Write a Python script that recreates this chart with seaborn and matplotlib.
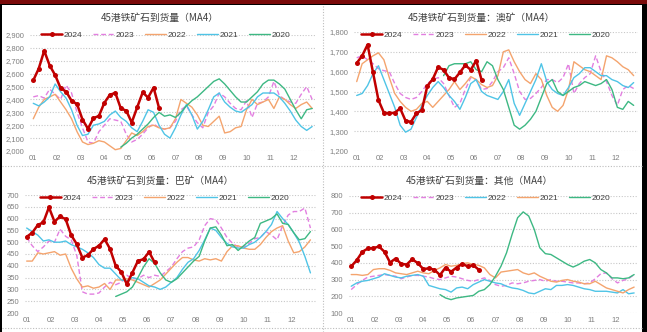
import matplotlib
matplotlib.use("Agg")
import matplotlib.pyplot as plt
import seaborn as sns
from matplotlib.patches import Rectangle
from matplotlib.lines import Line2D
from matplotlib.ticker import FuncFormatter

# ---------------- data ----------------
months = ["01", "02", "03", "04", "05", "06", "07", "08", "09", "10", "11", "12"]
years = ["2024", "2023", "2022", "2021", "2020"]

# Panel 1: total
t_2024 = [2548, 2640, 2778, 2663, 2589, 2487, 2461, 2390, 2364, 2244, 2173, 2255, 2272, 2374, 2436, 2451,
          2331, 2313, 2221, 2339, 2454, 2415, 2492, 2334]
t_2023 = [2420, 2430, 2410, 2480, 2440, 2400, 2510, 2450, 2300, 2180, 2070, 2060, 2150, 2200, 2250, 2240,
          2230, 2130, 2070, 2090, 2130, 2180, 2210, 2180, 2170, 2180, 2230, 2320, 2350, 2280, 2220, 2180,
          2300, 2350, 2450, 2420, 2370, 2330, 2320, 2390, 2260, 2370, 2380, 2420, 2540, 2430, 2400, 2380,
          2370, 2440, 2500, 2400]
t_2022 = [2250, 2340, 2400, 2420, 2440, 2380, 2320, 2250, 2150, 2070, 2050, 2060, 2080, 2070, 2040, 2010,
          2020, 2080, 2140, 2120, 2150, 2190, 2200, 2180, 2170, 2180, 2250, 2400, 2370, 2340, 2280, 2200,
          2190, 2230, 2270, 2140, 2150, 2180, 2190, 2320, 2400, 2360, 2380, 2400, 2330, 2420, 2400, 2360,
          2330, 2360, 2380, 2330]
t_2021 = [2370, 2350, 2380, 2420, 2520, 2460, 2410, 2320, 2200, 2120, 2130, 2200, 2210, 2230, 2280, 2310,
          2260, 2230, 2180, 2150, 2230, 2320, 2300, 2200, 2130, 2100, 2180, 2280, 2360, 2280, 2170, 2230,
          2320, 2420, 2450, 2380, 2340, 2310, 2300, 2330, 2360, 2420, 2450, 2450, 2450, 2420, 2370, 2310,
          2240, 2190, 2160, 2190]
t_2020 = [2030, 2060, 2100, 2130, 2170, 2210, 2260, 2300, 2270, 2280, 2260, 2300, 2350, 2390, 2420, 2460,
          2500, 2540, 2560, 2520, 2470, 2420, 2380, 2380, 2420, 2460, 2520, 2550, 2550, 2520, 2480, 2400,
          2320, 2250, 2320, 2330]

# Panel 2: Australia
a_2024 = [1643, 1680, 1736, 1596, 1457, 1393, 1390, 1393, 1415, 1352, 1347, 1390, 1406, 1528, 1562, 1623,
          1609, 1569, 1562, 1596, 1633, 1609, 1656, 1558]
a_2023 = [1670, 1680, 1660, 1640, 1615, 1605, 1600, 1540, 1490, 1470, 1460, 1470, 1500, 1540, 1560, 1570,
          1540, 1480, 1420, 1440, 1510, 1570, 1560, 1510, 1515, 1550, 1600, 1620, 1670, 1590, 1500, 1460,
          1465, 1490, 1520, 1560, 1560, 1545, 1570, 1640, 1490, 1540, 1570, 1590, 1680, 1600, 1550, 1480,
          1430, 1510, 1530, 1515]
a_2022 = [1550, 1640, 1660, 1680, 1695, 1660, 1570, 1490, 1450, 1420, 1400, 1410, 1440, 1450, 1420, 1450,
          1480, 1510, 1550, 1510, 1540, 1575, 1560, 1535, 1520, 1530, 1580, 1700, 1710, 1650, 1600, 1560,
          1540, 1590, 1560, 1480, 1420, 1400, 1430, 1510, 1650, 1630, 1610, 1600, 1580, 1560, 1680, 1670,
          1650, 1625, 1610, 1580]
a_2021 = [1480, 1490, 1530, 1590, 1630, 1560, 1490, 1420, 1330, 1295, 1310, 1370, 1430, 1480, 1520, 1550,
          1520, 1480, 1450, 1410, 1470, 1540, 1560, 1500, 1480, 1470, 1460, 1500, 1560, 1440, 1380, 1440,
          1500, 1560, 1640, 1550, 1510, 1490, 1480, 1520, 1570, 1590, 1620, 1620, 1600, 1580, 1580, 1560,
          1550, 1530, 1520, 1545]
a_2020 = [1580, 1630, 1640, 1640, 1640, 1650, 1610, 1600, 1650, 1630, 1560, 1510, 1420, 1330, 1310, 1330,
          1360, 1400, 1470, 1540, 1560, 1500, 1480, 1500, 1520, 1530, 1550, 1540, 1530, 1540, 1560, 1510,
          1420, 1410, 1450, 1430]

# Panel 3: Brazil
b_2024 = [523, 540, 573, 584, 648, 587, 609, 598, 530, 492, 435, 445, 471, 485, 513, 471, 400, 374, 322,
          371, 421, 428, 459, 414]
b_2023 = [520, 485, 460, 480, 505, 500, 555, 525, 510, 445, 290, 280, 280, 285, 310, 330, 320, 330, 360,
          345, 345, 360, 350, 360, 355, 375, 395, 430, 460, 475, 480, 510, 570, 600, 595, 560, 520, 495,
          480, 480, 495, 515, 520, 545, 530, 510, 570, 615, 630, 630, 645, 560]
b_2022 = [420, 420, 455, 450, 455, 460, 445, 450, 390, 345, 310, 315, 305, 310, 325, 300, 340, 340, 345,
          340, 330, 320, 310, 325, 340, 365, 390, 415, 435, 435, 425, 420, 430, 425, 430, 420, 460, 485,
          485, 475, 470, 470, 490, 520, 545, 560, 570, 505, 455, 460, 480, 510]
b_2021 = [560, 545, 530, 505, 510, 500, 500, 505, 490, 480, 470, 455, 435, 405, 390, 390, 365, 340, 335,
          350, 345, 330, 315, 310, 300, 310, 330, 350, 385, 415, 430, 465, 510, 560, 550, 520, 495, 480,
          475, 475, 490, 500, 520, 545, 575, 630, 600, 575, 540, 500, 440, 370]
b_2020 = [270, 280, 290, 310, 350, 395, 430, 410, 370, 340, 330, 345, 370, 395, 420, 440, 505, 560, 565,
          530, 485, 490, 465, 485, 505, 520, 580, 590, 600, 620, 580, 575, 540, 510, 515, 545]

# Panel 4: others
o_2024 = [379, 416, 466, 486, 488, 498, 466, 402, 426, 394, 390, 422, 398, 363, 367, 359, 327, 372, 347,
          372, 394, 379, 386, 359]
o_2023 = [240, 270, 295, 315, 320, 325, 330, 325, 320, 305, 315, 325, 325, 320, 315, 305, 300, 310, 320,
          315, 305, 295, 290, 300, 310, 295, 270, 260, 265, 280, 275, 280, 290, 295, 300, 290, 300, 290,
          290, 285, 280, 280, 275, 280, 305, 335, 340, 305, 280, 295, 305, 330]
o_2022 = [260, 280, 290, 295, 305, 315, 335, 325, 315, 310, 320, 325, 330, 320, 265, 255, 245, 240, 225,
          250, 255, 245, 270, 285, 300, 290, 280, 275, 260, 250, 245, 235, 220, 215, 230, 245, 240, 265,
          265, 270, 265, 255, 245, 240, 230, 230, 230, 225, 220, 240, 215, 220]
o_2021 = [330, 330, 325, 330, 360, 365, 365, 355, 340, 335, 330, 340, 350, 340, 335, 355, 370, 390, 380,
          385, 395, 400, 390, 385, 370, 330, 310, 345, 350, 355, 360, 340, 330, 340, 320, 305, 290, 285,
          295, 300, 290, 285, 275, 275, 290, 270, 250, 240, 230, 220, 240, 255]
o_2020 = [210, 190, 180, 190, 195, 200, 205, 230, 240, 270, 320, 380, 460, 570, 670, 705, 680, 600, 490,
          455, 450, 430, 410, 390, 375, 390, 410, 420, 400, 360, 340, 310, 310, 305, 310, 330]

titles = ["45港铁矿石到货量（MA4）", "45港铁矿石到货量：澳矿（MA4）",
          "45港铁矿石到货量：巴矿（MA4）", "45港铁矿石到货量：其他（MA4）"]

# ---------------- style ----------------
sns.set_style("white")
plt.rcParams["font.family"] = ["Noto Sans CJK SC", "DejaVu Sans"]

C24, C23, C22, C21, C20 = "#C00000", "#E27FE0", "#F4A46E", "#4FC4E6", "#3DB883"
NUMFONT = ["Liberation Sans", "DejaVu Sans"]

W, H = 647, 332
fig = plt.figure(figsize=(W / 100, H / 100), dpi=100)
fig.patch.set_facecolor("black")
fig.add_artist(Rectangle((2 / W, 0), 640 / W, 327 / H, transform=fig.transFigure,
                         facecolor="white", edgecolor="none", zorder=-10))
fig.add_artist(Rectangle((0, 328 / H), 1, 4 / H, transform=fig.transFigure,
                         facecolor="#7A0A0A", edgecolor="none", zorder=-10))
sep = dict(color="#BDBDBD", linestyle=(0, (1, 1.5)), linewidth=0.8, transform=fig.transFigure, zorder=-5)
fig.add_artist(Line2D([323 / W, 323 / W], [0, 327 / H], **sep))
fig.add_artist(Line2D([2 / W, 642 / W], [166 / H, 166 / H], **sep))
fig.add_artist(Line2D([2 / W, 642 / W], [4 / H, 4 / H], **sep))


def px_axes(x0, x1, ytop, ybot):
    return fig.add_axes([x0 / W, (H - ybot) / H, (x1 - x0) / W, (ybot - ytop) / H])


panels = [
    dict(rect=(30, 316, 35, 151), xlim=(0.4, 52.7), ylim=(2000, 2900), step=100, comma=True,
         data=[t_2024, t_2023, t_2022, t_2021, t_2020], title_xy=(160, 18), leg=(0.475, 1.0),
         colors=[C24, C23, C22, C21, C20]),
    dict(rect=(354, 638, 32, 151), xlim=(0.5, 52.8), ylim=(1200, 1800), step=100, comma=True,
         data=[a_2024, a_2023, a_2022, a_2021, a_2020], title_xy=(481, 18), leg=(0.465, 0.975),
         colors=[C24, C23, C22, C21, C20]),
    dict(rect=(25, 316, 195, 313), xlim=(0.7, 53.0), ylim=(200, 700), step=50, comma=False,
         data=[b_2024, b_2023, b_2022, b_2021, b_2020], title_xy=(160, 181), leg=(0.48, 0.975),
         colors=[C24, C23, C22, C21, C20]),
    dict(rect=(349, 638, 196, 313), xlim=(0.6, 52.7), ylim=(100, 800), step=100, comma=False,
         data=[o_2024, o_2023, o_2022, o_2021, o_2020], title_xy=(479, 181), leg=(0.474, 0.983),
         colors=[C24, C23, C21, C22, C20]),
]

tick_weeks = [1 + i * 52 / 12 for i in range(12)]

for p, title in zip(panels, titles):
    ax = px_axes(*p["rect"])
    ax.set_facecolor("none")
    for yr, vals, col in zip(years, p["data"], p["colors"]):
        start = 17 if yr == "2020" else 1
        wk = list(range(start, start + len(vals)))
        kw = dict(x=wk, y=vals, ax=ax, color=col, label=yr)
        if yr == "2024":
            sns.lineplot(**kw, linewidth=1.8, marker="o", markersize=3.6, markeredgewidth=0, zorder=5)
        elif yr == "2023":
            sns.lineplot(**kw, linewidth=1.0, linestyle=(0, (3.5, 2)), zorder=3)
        else:
            sns.lineplot(**kw, linewidth=1.0, zorder=3)
    ax.set_xlim(*p["xlim"])
    ax.set_ylim(*p["ylim"])
    lo, hi = p["ylim"]
    ax.set_yticks(list(range(lo, hi + 1, p["step"])))
    if p["comma"]:
        ax.yaxis.set_major_formatter(FuncFormatter(lambda v, _: f"{int(v):,}"))
    ax.set_xticks(tick_weeks)
    ax.set_xticklabels(months)
    ax.set_xlabel("")
    ax.set_ylabel("")
    ax.grid(axis="y", color="#C8C8C8", linestyle=(0, (1, 1.5)), linewidth=0.8)
    ax.grid(axis="x", visible=False)
    for s in ax.spines.values():
        s.set_visible(False)
    ax.tick_params(axis="both", length=0, labelsize=5.5, labelcolor="#7F7F7F")
    ax.tick_params(axis="x", pad=3)
    ax.tick_params(axis="y", pad=4)
    for lab in ax.get_xticklabels() + ax.get_yticklabels():
        lab.set_fontfamily(NUMFONT)
    leg = ax.legend(ncol=5, loc="center", bbox_to_anchor=p["leg"], frameon=False,
                    prop={"family": NUMFONT, "size": 6},
                    handlelength=2.5, handletextpad=0.2, columnspacing=1.3, borderpad=0)
    for t in leg.get_texts():
        t.set_color("#404040")
    tx, ty = p["title_xy"]
    fig.text(tx / W, (H - ty) / H, title, ha="center", va="center", fontsize=7, color="#404040")

fig.savefig("out.png", dpi=100, facecolor=fig.get_facecolor())
